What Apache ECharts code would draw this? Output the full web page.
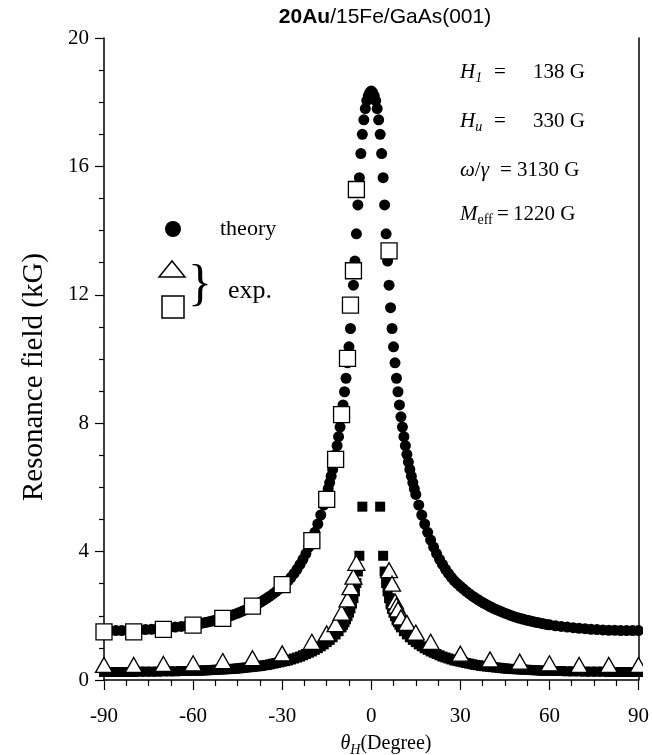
<!DOCTYPE html>
<html>
<head>
<meta charset="utf-8">
<title>20Au/15Fe/GaAs(001)</title>
<script src="https://cdn.jsdelivr.net/npm/echarts@6/dist/echarts.min.js"></script>
<style>
  html, body { margin: 0; padding: 0; background: #fff; }
  #chart { width: 652px; height: 755px; }
</style>
</head>
<body>
<div id="chart"></div>
<script>
// theory, upper branch (filled circles)
const theoryUpperAngles = [
  -90, -88, -86, -84, -82, -80, -78, -76, -74, -72, -70, -68, -66, -64, -62,
  -60, -59, -58, -57, -56, -55, -54, -53, -52, -51, -50, -49, -48, -47, -46,
  -45, -44, -43, -42, -41, -40, -39, -38, -37, -36, -35, -34, -33, -32, -31,
  -30, -29, -28, -27, -26, -25, -24, -23, -22, -21, -20, -19, -18, -17, -16, -15,
  -14.5, -14, -13.5, -13, -12.5, -12, -11.5, -11, -10.5, -10, -9.5, -9, -8.5, -8, -7.5, -7, -6.5, -6,
  -5.5, -5, -4.5, -4, -3.5, -3, -2.5, -2, -1.5, -1, -0.5, 0,
  0.5, 1, 1.5, 2, 2.5, 3, 3.5, 4, 4.5, 5, 5.5, 6, 6.5, 7, 7.5, 8, 8.5, 9, 9.5, 10,
  10.5, 11, 11.5, 12, 12.5, 13, 13.5, 14, 14.5,
  15, 16, 17, 18, 19, 20, 21, 22, 23, 24, 25, 26, 27, 28, 29, 30,
  31, 32, 33, 34, 35, 36, 37, 38, 39, 40, 41, 42, 43, 44, 45,
  46, 47, 48, 49, 50, 51, 52, 53, 54, 55, 56, 57, 58, 59, 60,
  62, 64, 66, 68, 70, 72, 74, 76, 78, 80, 82, 84, 86, 88, 90
];
const theoryUpperField = [
  1.54, 1.54, 1.54, 1.54, 1.55, 1.55, 1.56, 1.57, 1.58, 1.6, 1.61, 1.63, 1.65, 1.67, 1.69,
  1.72, 1.73, 1.75, 1.77, 1.79, 1.81, 1.83, 1.85, 1.87, 1.9, 1.92, 1.95, 1.98, 2.01, 2.05,
  2.08, 2.12, 2.16, 2.2, 2.24, 2.29, 2.34, 2.39, 2.44, 2.5, 2.56, 2.62, 2.69, 2.76, 2.84,
  2.92, 3.0, 3.09, 3.2, 3.32, 3.45, 3.6, 3.76, 3.94, 4.14, 4.36, 4.6, 4.86, 5.14, 5.45, 5.78,
  5.96, 6.15, 6.35, 6.56, 6.79, 7.03, 7.3, 7.58, 7.88, 8.2, 8.57, 8.98, 9.4, 9.88, 10.38, 10.95, 11.6, 12.3,
  13.05, 13.9, 14.8, 15.65, 16.4, 17.0, 17.45, 17.8, 18.05, 18.2, 18.3, 18.35,
  18.3, 18.2, 18.05, 17.8, 17.45, 17.0, 16.4, 15.65, 14.8, 13.9, 13.05, 12.3, 11.6, 10.95, 10.38, 9.88, 9.4, 8.98, 8.57, 8.2,
  7.88, 7.58, 7.3, 7.03, 6.79, 6.56, 6.35, 6.15, 5.96,
  5.78, 5.45, 5.14, 4.86, 4.6, 4.36, 4.14, 3.94, 3.76, 3.6, 3.45, 3.32, 3.2, 3.09, 3.0, 2.92,
  2.84, 2.76, 2.69, 2.62, 2.56, 2.5, 2.44, 2.39, 2.34, 2.29, 2.24, 2.2, 2.16, 2.12, 2.08,
  2.05, 2.01, 1.98, 1.95, 1.92, 1.9, 1.87, 1.85, 1.83, 1.81, 1.79, 1.77, 1.75, 1.73, 1.72,
  1.69, 1.67, 1.65, 1.63, 1.61, 1.6, 1.58, 1.57, 1.56, 1.55, 1.55, 1.54, 1.54, 1.54, 1.54
];

// theory, lower branch (filled squares)
const theoryLowerAngles = [
  -90, -88, -86, -84, -82, -80, -78, -76, -74, -72, -70, -68, -66, -64, -62,
  -60, -59, -58, -57, -56, -55, -54, -53, -52, -51, -50, -49, -48, -47, -46,
  -45, -44, -43, -42, -41, -40, -39, -38, -37, -36, -35, -34, -33, -32, -31,
  -30, -29, -28, -27, -26, -25, -24, -23, -22, -21, -20, -19, -18, -17, -16, -15, -14, -13, -12, -11, -10,
  -9.5, -9, -8.5, -8, -7.5, -7, -6.5, -6, -5.5, -5, -4.5, -4, -3,
  3, 4, 4.5, 5, 5.5, 6, 6.5, 7, 7.5, 8, 8.5, 9, 9.5,
  10, 11, 12, 13, 14, 15, 16, 17, 18, 19, 20, 21, 22, 23, 24, 25, 26, 27, 28, 29, 30,
  31, 32, 33, 34, 35, 36, 37, 38, 39, 40, 41, 42, 43, 44, 45,
  46, 47, 48, 49, 50, 51, 52, 53, 54, 55, 56, 57, 58, 59, 60,
  62, 64, 66, 68, 70, 72, 74, 76, 78, 80, 82, 84, 86, 88, 90
];
const theoryLowerField = [
  0.25, 0.25, 0.25, 0.25, 0.25, 0.25, 0.26, 0.26, 0.26, 0.26, 0.27, 0.27, 0.27, 0.28, 0.28,
  0.29, 0.29, 0.29, 0.295, 0.3, 0.305, 0.31, 0.315, 0.32, 0.325, 0.33, 0.335, 0.34, 0.345, 0.35,
  0.36, 0.37, 0.38, 0.39, 0.4, 0.41, 0.42, 0.43, 0.44, 0.46, 0.47, 0.49, 0.51, 0.53, 0.55,
  0.57, 0.59, 0.61, 0.64, 0.67, 0.7, 0.73, 0.77, 0.81, 0.85, 0.89, 0.94, 0.99, 1.05, 1.11, 1.18, 1.25, 1.33, 1.42, 1.52, 1.64,
  1.72, 1.8, 1.89, 1.99, 2.1, 2.23, 2.38, 2.55, 2.76, 3.02, 3.38, 3.87, 5.4,
  5.4, 3.87, 3.38, 3.02, 2.76, 2.55, 2.38, 2.23, 2.1, 1.99, 1.89, 1.8, 1.72,
  1.64, 1.52, 1.42, 1.33, 1.25, 1.18, 1.11, 1.05, 0.99, 0.94, 0.89, 0.85, 0.81, 0.77, 0.73, 0.7, 0.67, 0.64, 0.61, 0.59, 0.57,
  0.55, 0.53, 0.51, 0.49, 0.47, 0.46, 0.44, 0.43, 0.42, 0.41, 0.4, 0.39, 0.38, 0.37, 0.36,
  0.35, 0.345, 0.34, 0.335, 0.33, 0.325, 0.32, 0.315, 0.31, 0.305, 0.3, 0.295, 0.29, 0.29, 0.29,
  0.28, 0.28, 0.27, 0.27, 0.27, 0.26, 0.26, 0.26, 0.26, 0.25, 0.25, 0.25, 0.25, 0.25, 0.25
];

// experiment (open triangles / open squares)
const expTriAngles = [-90, -80, -70, -60, -50, -40, -30, -20, -15, -12, -10, -8, -7, -6, -5,
  6, 7, 8, 8.5, 9, 10, 12, 15, 20, 30, 40, 50, 60, 70, 80, 90];
const expTriField = [0.47, 0.47, 0.5, 0.52, 0.59, 0.68, 0.83, 1.19, 1.45, 1.74, 2.1, 2.51, 2.89, 3.22, 3.65,
  3.42, 3.0, 2.45, 2.32, 2.2, 1.95, 1.78, 1.48, 1.19, 0.82, 0.64, 0.57, 0.52, 0.47, 0.47, 0.47];
const expSqAngles = [-90, -80, -70, -60, -50, -40, -30, -20, -15, -12, -10, -8, -7, -6, -5, 6];
const expSqField = [1.5, 1.5, 1.58, 1.71, 1.92, 2.3, 2.97, 4.34, 5.63, 6.87, 8.27, 10.02, 11.68, 12.75, 15.28, 13.37];

const serif = "'Liberation Serif', 'Times New Roman', serif";
const sans = "'Liberation Sans', Arial, sans-serif";

const pairs = (xs, ys) => xs.map((x, i) => [x, ys[i]]);

const chart = echarts.init(document.getElementById('chart'));

// text helpers for the graphic layer
const plain = (x, y, text, size, align) => ({
  type: 'text', x: x, y: y, silent: true,
  style: { text: text, fill: '#000', fontFamily: serif, fontSize: size, align: align || 'left', verticalAlign: 'middle' }
});
const richText = (x, y, text, size, align) => ({
  type: 'text', x: x, y: y, silent: true,
  style: {
    text: text, fill: '#000', fontFamily: serif, fontSize: size, align: align || 'left', verticalAlign: 'middle',
    rich: {
      i: { fill: '#000', fontFamily: serif, fontSize: size, fontStyle: 'italic', lineHeight: 26 },
      n: { fill: '#000', fontFamily: serif, fontSize: size, lineHeight: 26 },
      s: { fill: '#000', fontFamily: serif, fontSize: 14, fontStyle: 'italic', lineHeight: 14, verticalAlign: 'bottom' },
      e: { fill: '#000', fontFamily: serif, fontSize: 14, lineHeight: 14, verticalAlign: 'bottom' }
    }
  }
});

const option = {
  animation: false,
  backgroundColor: '#fff',
  grid: { left: 104, right: 10, top: 38, bottom: 75 },
  xAxis: {
    type: 'value', min: -90, max: 90, interval: 30,
    axisLine: { onZero: false, lineStyle: { color: '#000', width: 1.5 } },
    axisTick: { length: 10, lineStyle: { color: '#000', width: 1.2 } },
    minorTick: { show: true, splitNumber: 4, length: 6, lineStyle: { color: '#000', width: 1.2 } },
    axisLabel: { fontFamily: serif, fontSize: 21, color: '#000', margin: 26 },
    splitLine: { show: false }
  },
  yAxis: [
    {
      type: 'value', min: 0, max: 20, interval: 4,
      axisLine: { show: true, onZero: false, lineStyle: { color: '#000', width: 1.5 } },
      axisTick: { show: true, length: 9, lineStyle: { color: '#000', width: 1.2 } },
      minorTick: { show: true, splitNumber: 4, length: 5, lineStyle: { color: '#000', width: 1.2 } },
      axisLabel: { fontFamily: serif, fontSize: 21, color: '#000', margin: 15 },
      splitLine: { show: false }
    },
    {
      // right frame line only
      type: 'value', min: 0, max: 20, position: 'right',
      axisLine: { show: true, onZero: false, lineStyle: { color: '#000', width: 1.5 } },
      axisTick: { show: false }, axisLabel: { show: false }, splitLine: { show: false }
    }
  ],
  series: [
    {
      name: 'theory', type: 'scatter', z: 2, silent: true,
      symbol: 'circle', symbolSize: 11,
      itemStyle: { color: '#000', opacity: 1 },
      data: pairs(theoryUpperAngles, theoryUpperField)
    },
    {
      name: 'theory lower', type: 'scatter', z: 2, silent: true,
      symbol: 'rect', symbolSize: 10,
      itemStyle: { color: '#000', opacity: 1 },
      data: pairs(theoryLowerAngles, theoryLowerField)
    },
    {
      name: 'exp. triangles', type: 'scatter', z: 3, silent: true,
      symbol: 'triangle', symbolSize: [17, 15],
      itemStyle: { color: '#fff', borderColor: '#000', borderWidth: 1.3, opacity: 1 },
      data: pairs(expTriAngles, expTriField)
    },
    {
      name: 'exp. squares', type: 'scatter', z: 4, silent: true,
      symbol: 'rect', symbolSize: 16,
      itemStyle: { color: '#fff', borderColor: '#000', borderWidth: 1.3, opacity: 1 },
      data: pairs(expSqAngles, expSqField)
    }
  ],
  graphic: [
    // marks stop at the right frame line
    { type: 'rect', z: 100, silent: true, shape: { x: 643, y: 20, width: 12, height: 680 }, style: { fill: '#fff' } },
    // title
    {
      type: 'text', x: 385, y: 17, silent: true,
      style: {
        text: '{b|20Au}{n|/15Fe/GaAs(001)}', fill: '#000', align: 'center', verticalAlign: 'middle',
        fontFamily: sans, fontSize: 21,
        rich: {
          b: { fill: '#000', fontFamily: sans, fontSize: 21, fontWeight: 'bold' },
          n: { fill: '#000', fontFamily: sans, fontSize: 21 }
        }
      }
    },
    // axis titles
    {
      type: 'text', x: 34, y: 377, rotation: Math.PI / 2, silent: true,
      style: { text: 'Resonance field (kG)', fill: '#000', fontFamily: serif, fontSize: 29, align: 'center', verticalAlign: 'middle' }
    },
    richText(386, 744, '{i|θ}{s|H}{n|(Degree)}', 20, 'center'),

    // parameters
    richText(460, 72, '{i|H}{s|1}', 21),
    plain(500, 72, '=', 21, 'center'),
    plain(533, 72, '138 G', 21),
    richText(460, 121, '{i|H}{s|u}', 21),
    plain(500, 121, '=', 21, 'center'),
    plain(533, 121, '330 G', 21),
    richText(460, 170, '{i|ω}{n|/}{i|γ}', 21),
    plain(506, 170, '=', 21, 'center'),
    plain(517, 170, '3130 G', 21),
    richText(460, 214, '{i|M}{e|eff}', 21),
    plain(503, 214, '=', 21, 'center'),
    plain(513, 214, '1220 G', 21),

    // legend
    { type: 'circle', silent: true, shape: { cx: 173, cy: 229, r: 8 }, style: { fill: '#000' } },
    plain(220, 229, 'theory', 22),
    {
      type: 'polygon', silent: true,
      shape: { points: [[172, 261], [185, 277], [159, 277]] },
      style: { fill: '#fff', stroke: '#000', lineWidth: 1.5 }
    },
    {
      type: 'rect', silent: true,
      shape: { x: 162, y: 296, width: 22, height: 22 },
      style: { fill: '#fff', stroke: '#000', lineWidth: 1.5 }
    },
    plain(200, 286, '}', 50, 'center'),
    plain(228, 291, 'exp.', 26)
  ]
};

chart.setOption(option);
</script>
</body>
</html>
